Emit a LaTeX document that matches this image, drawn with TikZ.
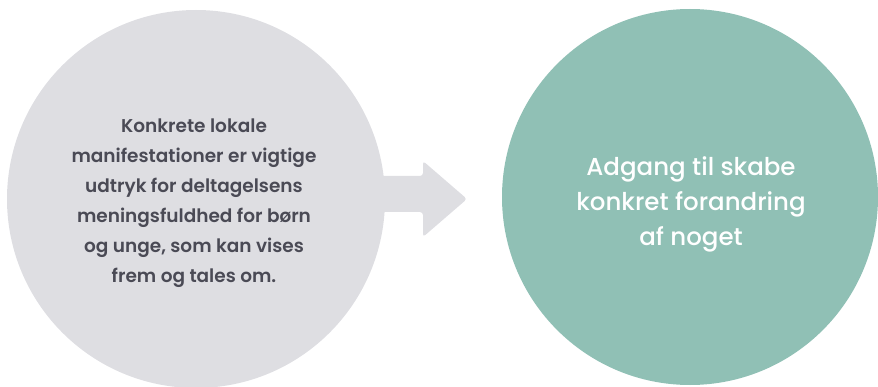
\documentclass[tikz,border=0pt]{standalone}
\usepackage{fontspec}
\setmainfont{Poppins}[BoldFont={Poppins SemiBold}]
\newfontfamily\mediumfont{Poppins Medium}
\usetikzlibrary{positioning}
\definecolor{bubblegray}{HTML}{DEDEE2}
\definecolor{bubblegreen}{HTML}{90C0B5}
\definecolor{textgray}{HTML}{4A4A55}
\tikzset{
  bubble/.style={circle, minimum size=378pt, inner sep=0pt, align=center},
}
\begin{document}
\begin{tikzpicture}[x=1pt, y=1pt]
    \useasboundingbox (0,0) rectangle (878,386);
    % the two circles
    \node [bubble, fill=bubblegray] (cause) at (196,187) {};
    \node [bubble, fill=bubblegreen, minimum size=376pt] (effect) at (690,189) {};
    % block arrow between them
    \fill [bubblegray, rounded corners=3pt]
        (370,174) -- (423,174) -- (423,149) -- (467,187) -- (423,225)
        -- (423,210) -- (370,210) -- cycle;
    % texts
    \node [align=center, text=textgray, font=\fontsize{18.5}{30}\selectfont\bfseries]
        (causetext) at (194,183)
        {Konkrete lokale\\manifestationer er vigtige\\udtryk for deltagelsens\\meningsfuldhed for børn\\og unge, som kan vises\\frem og tales om.};
    \node [align=center, text=white, font=\mediumfont\fontsize{24.5}{35}\selectfont]
        (effecttext) at (691,182)
        {Adgang til skabe\\konkret forandring\\af noget};
\end{tikzpicture}
\end{document}
